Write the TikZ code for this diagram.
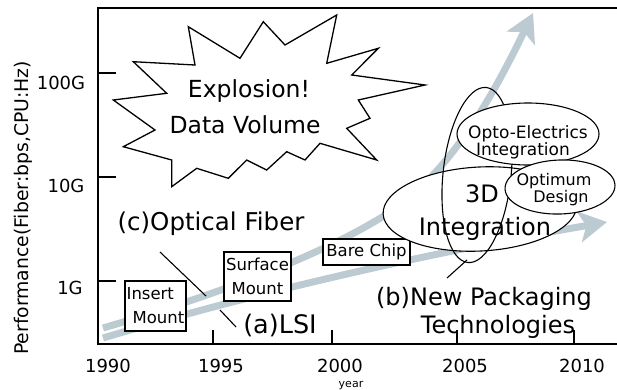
\documentclass[tikz,border=0pt]{standalone}
\usepackage{fontspec}
\setmainfont{DejaVu Sans}
\usetikzlibrary{arrows.meta}
\definecolor{bandgray}{RGB}{188,202,210}
\begin{document}
\begin{tikzpicture}[x=1pt, y=-1pt, line width=1.1pt,
        band/.style={line width=7pt, bandgray, -{Stealth[length=28pt, width=31pt, inset=7pt]}},
        box/.style={draw, fill=white, inner sep=1pt, font=\fontsize{16.5}{24}\selectfont},
        bigtxt/.style={font=\fontsize{24}{28}\selectfont, anchor=base},
        midtxt/.style={font=\fontsize{18}{22}\selectfont, anchor=base},
        smalltxt/.style={font=\fontsize{16.5}{20}\selectfont, anchor=base}]
        \useasboundingbox (0,0) rectangle (617,389);
        % frame and ticks
        \draw [line width=1.6pt] (617,8) -- (98,8) -- (98,344) -- (617,344);
        \foreach \y in {73,177,281} \draw (98,\y) -- (116,\y);
        \foreach \x in {213,332,457,574} \draw (\x,344) -- (\x,330);
        \node [midtxt] (g100) at (61,89){100G};
        \node [midtxt] (g10) at (66,192){10G};
        \node [midtxt] (g1) at (70,294){1G};
        \node [midtxt] (y1990) at (108,372){1990};
        \node [midtxt] (y1995) at (221,372){1995};
        \node [midtxt] (y2000) at (340,372){2000};
        \node [midtxt] (y2005) at (465,372){2005};
        \node [midtxt] (y2010) at (582,372){2010};
        \node [font=\fontsize{11}{13}\selectfont, anchor=base] (yr) at (351,387){year};
        \node [midtxt, rotate=90, font=\fontsize{18.8}{22}\selectfont] (perf) at (28,208){Performance(Fiber:bps,CPU:Hz)};
        % the two trends
        \coordinate (lsiS) at (103,338);
        \coordinate (lsiE) at (607,222);
        \coordinate (fibS) at (103,328);
        \coordinate (fibM) at (390,212);
        \coordinate (fibE) at (533,13);
        \draw [band] (lsiS) .. controls (230,300) and (400,258) .. (lsiE);
        \draw [band] (fibS) .. controls (230,291) and (330,251) .. (fibM) .. controls (450,172) and (492,98) .. (fibE);
        % explosion
        \draw [fill=white, line width=1.3pt, line join=miter] (188.3,26.7) -- (240,58.3) -- (263.3,21.7) -- (285,45) -- (336.7,15) -- (326.7,63.3)
            -- (378.3,48.3) -- (351.7,75) -- (425,85) -- (358.3,100) -- (370,118.3) -- (346.7,128.3) -- (376.7,160)
            -- (320,143.3) -- (305,160) -- (286.7,151.7) -- (266.7,170) -- (246.7,160) -- (228.3,178.3) -- (196.7,168.3)
            -- (171.7,186.7) -- (171.7,160) -- (123.3,146.7) -- (155,130) -- (113.3,100) -- (166.7,93.3) -- (133.3,61.7)
            -- (195,65) -- cycle;
        \node [bigtxt, font=\fontsize{23.5}{28}\selectfont] (expl) at (249,97){Explosion!};
        \node [bigtxt, font=\fontsize{23.5}{28}\selectfont] (data) at (245,133){Data Volume};
        % packaging steps
        \node [box, minimum width=61pt, minimum height=50pt, align=left] (insert) at (155.5,306){Insert\\\hspace*{6pt}Mount};
        \node [box, minimum width=67pt, minimum height=49pt, align=center] (surface) at (257.5,276.5){Surface\\Mount};
        \node [box, minimum width=87pt, minimum height=26pt] (bare) at (366.5,252){Bare Chip};
        % integration
        \draw [fill=white, rotate around={3:(480,209)}] (480,209) ellipse [x radius=97, y radius=42];
        \draw [rotate around={-6:(477,175)}] (477,175) ellipse [x radius=34, y radius=88];
        \draw [fill=white] (528,134) ellipse [x radius=71, y radius=31];
        \draw [fill=white, rotate around={2:(560,187)}] (560,187) ellipse [x radius=55, y radius=27];
        \node [bigtxt] (three) at (482,202){3D};
        \node [bigtxt] (integ) at (485,235){Integration};
        \node [smalltxt, font=\fontsize{17}{20}\selectfont] (opto) at (528,138){Opto-Electrics};
        \node [smalltxt, font=\fontsize{17}{20}\selectfont] (optoi) at (523,155){Integration};
        \node [smalltxt, font=\fontsize{16}{20}\selectfont] (optim) at (554,185){Optimum};
        \node [smalltxt, font=\fontsize{16}{20}\selectfont] (design) at (561,202){Design};
        % labels
        \node [bigtxt, font=\fontsize{24.5}{28}\selectfont] (fiber) at (211,230){(c)Optical Fiber};
        \node [bigtxt, font=\fontsize{25.5}{28}\selectfont] (lsi) at (280,333){(a)LSI};
        \node [bigtxt] (newpack) at (484,305){(b)New Packaging};
        \node [bigtxt] (techn) at (498,333){Technologies};
        \coordinate (fibP) at (206,296);
        \coordinate (lsiP) at (220,310);
        \coordinate (packP) at (467,260);
        \draw (160,252) -- (fibP);
        \draw (lsiP) -- (236,327);
        \draw (447,278) -- (packP);
\end{tikzpicture}
\end{document}
